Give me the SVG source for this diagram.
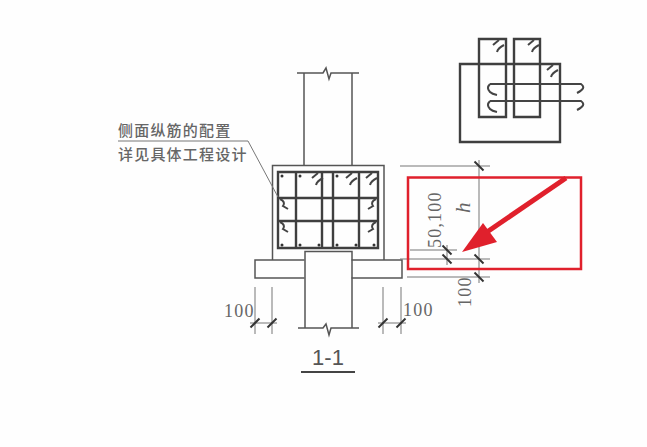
<svg xmlns="http://www.w3.org/2000/svg" width="647" height="447" viewBox="0 0 647 447">
<style>
.s{fill:none;stroke:#555;stroke-width:1.5}
.b{fill:none;stroke:#444;stroke-width:2}
.r{fill:none;stroke:#3f3f3f;stroke-width:2.4}
.t{fill:none;stroke:#777;stroke-width:1}
.k{stroke:#333;stroke-width:2;fill:none}
.d{fill:#333}
.z{font-family:"Noto Sans CJK SC",sans-serif;font-size:15px;font-weight:500;fill:#666;letter-spacing:1.2px}
.n{font-family:"Liberation Serif",serif;font-size:18px;fill:#666;letter-spacing:1.2px}
</style>
<defs>
<path id="tk" class="k" d="M-4.500 4.500L4.500 -4.500"/>
<path id="tb" class="k" d="M-4.500 -4.500L4.500 4.500"/>
<path id="hk" class="b" d="M0 6L6 1M4 13Q5 9 11 6"/>
</defs>
<rect width="647" height="447" fill="#fefefe"/>
<g id="beam">
<path class="s" d="M304 73V165M352 73V165M297 73H323L326 68L329 79L331 73H359"/>
<path class="s" d="M272.500 260V165.500H384V260"/>
<path class="r" d="M278 172H378V248H278ZM296 172V248M322 172V248M333 172V248M359 172V248M278 198H378M278 221H378"/>
<use href="#hk" x="312" y="172"/><use href="#hk" x="346" y="172"/><use href="#hk" x="366" y="172"/>
<path class="b" d="M280 199Q286 202 283 206L288 209M280 222Q286 225 283 229L288 232M376 199Q370 202 373 206L368 209M376 222Q370 225 373 229L368 232"/>
<g class="d"><circle cx="282" cy="176" r="1.500"/><circle cx="300" cy="176" r="1.500"/><circle cx="337" cy="176" r="1.500"/><circle cx="282" cy="245" r="1.500"/><circle cx="300" cy="245" r="1.500"/><circle cx="319" cy="245" r="1.500"/><circle cx="337" cy="245" r="1.500"/><circle cx="356" cy="245" r="1.500"/><circle cx="374" cy="245" r="1.500"/></g>
</g>
<g id="slab">
<path class="s" d="M304.500 260H255V278H304.500M351.500 260H402V278H351.500"/>
</g>
<g id="column">
<path class="s" d="M305 328V251.500H352V328M298 328H323L326 324L329 335L331 328H359"/>
</g>
<g id="stirrup-detail">
<path class="r" d="M460 64H560V142H460ZM479 39H506V117H479ZM514 39H540V117H514Z"/>
<path class="b" d="M490 84H581Q587 88 577 93M490 84Q486 88 490 92Q492 94 497 95M490 101H581Q587 105 577 110M490 101Q486 105 490 109Q492 111 497 112"/>
<use href="#hk" x="493" y="39"/><use href="#hk" x="528" y="39"/><use href="#hk" x="547" y="64"/>
</g>
<g id="connectors">
<path class="t" d="M118 141H248L278 197"/>
<path class="t" d="M400 166H490M400 259H490M407 277H490M410 250H457M479 160V283M447 245V265M255 287V334M272 287V334M383 287V334M401 287V334M250 323H277M378 323H406"/>
<use href="#tb" x="479" y="166"/><use href="#tb" x="479" y="259"/><use href="#tb" x="479" y="277"/><use href="#tb" x="447" y="250"/><use href="#tb" x="447" y="259"/>
<use href="#tk" x="255" y="323"/><use href="#tk" x="272" y="323"/><use href="#tk" x="383" y="323"/><use href="#tk" x="401" y="323"/>
</g>
<g id="labels">
<text class="z" x="118" y="136">侧面纵筋的配置</text>
<text class="z" x="118" y="160">详见具体工程设计</text>
<text class="n" x="224" y="317">100</text>
<text class="n" x="403" y="316">100</text>
<text class="n" transform="translate(441 248) rotate(-90)">50,100</text>
<text class="n" font-size="20" font-style="italic" style="font-size:21px" transform="translate(470 213) rotate(-90)">h</text>
<text class="n" transform="translate(471 307) rotate(-90)">100</text>
<text x="328" y="365" text-anchor="middle" font-family="Liberation Sans,sans-serif" font-size="22" fill="#555">1-1</text>
<path d="M301 372H355" stroke="#444" stroke-width="2.200"/>
</g>
<g id="highlight">
<rect x="408" y="177.500" width="173" height="91.500" fill="none" stroke="#e0202c" stroke-width="2.500"/>
<path d="M566 178L487 232" stroke="#e0202c" stroke-width="5" fill="none"/>
<path d="M462 252L483 223L497 242Z" fill="#e0202c"/>
</g>
</svg>
